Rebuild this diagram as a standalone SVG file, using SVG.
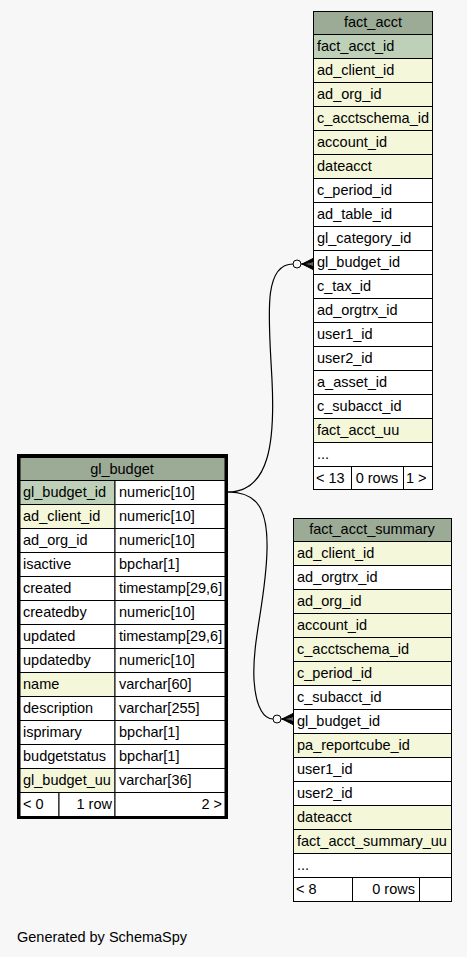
<svg xmlns="http://www.w3.org/2000/svg" width="467" height="957" viewBox="0 0 467 957">
<style>
text{font-family:"Liberation Sans",Arial,sans-serif;font-size:14.5px;fill:#000}
.c{stroke:#000;stroke-width:1}
.h{fill:#9bab96}
.pk{fill:#bed1b8}
.ix{fill:#f4f7da}
.w{fill:#ffffff}
.mid{text-anchor:middle}
.end{text-anchor:end}
.edge{fill:none;stroke:#000;stroke-width:1.2}
.crow{fill:#000;stroke:#000;stroke-width:1}
.odot{fill:#f7f7f7;stroke:#000;stroke-width:1}
</style>
<rect width="467" height="957" fill="#f7f7f7"/>

<g id="connectors">
<path class="edge" d="M228,492 C270,492 275,440 272,380 C269,320 262,264 293,264"/>
<circle class="odot" cx="297" cy="264" r="4"/>
<path class="edge" d="M301,264 L313,264"/>
<path class="crow" d="M313,258.5 L302,264 L313,262 Z M313,269.5 L302,264 L313,266 Z"/>
<path class="edge" d="M228,492 C258,492 268,510 267,550 C266,600 252,640 254,680 C256,710 265,719 273,719"/>
<circle class="odot" cx="277" cy="719" r="4"/>
<path class="edge" d="M281,719 L293,719"/>
<path class="crow" d="M293,713.5 L282,719 L293,717 Z M293,724.5 L282,719 L293,721 Z"/>
</g>

<g id="fact_acct">
<rect class="c h" x="313.5" y="11.5" width="119" height="23"/>
<text class="mid" x="373" y="27">fact_acct</text>
<rect class="c pk" x="313.5" y="34.5" width="119" height="24"/><text x="317" y="51">fact_acct_id</text>
<rect class="c ix" x="313.5" y="58.5" width="119" height="24"/><text x="317" y="75">ad_client_id</text>
<rect class="c ix" x="313.5" y="82.5" width="119" height="24"/><text x="317" y="99">ad_org_id</text>
<rect class="c ix" x="313.5" y="106.5" width="119" height="24"/><text x="317" y="123">c_acctschema_id</text>
<rect class="c ix" x="313.5" y="130.5" width="119" height="24"/><text x="317" y="147">account_id</text>
<rect class="c ix" x="313.5" y="154.5" width="119" height="24"/><text x="317" y="171">dateacct</text>
<rect class="c w" x="313.5" y="178.5" width="119" height="24"/><text x="317" y="195">c_period_id</text>
<rect class="c w" x="313.5" y="202.5" width="119" height="24"/><text x="317" y="219">ad_table_id</text>
<rect class="c w" x="313.5" y="226.5" width="119" height="24"/><text x="317" y="243">gl_category_id</text>
<rect class="c w" x="313.5" y="250.5" width="119" height="24"/><text x="317" y="267">gl_budget_id</text>
<rect class="c w" x="313.5" y="274.5" width="119" height="24"/><text x="317" y="291">c_tax_id</text>
<rect class="c w" x="313.5" y="298.5" width="119" height="24"/><text x="317" y="315">ad_orgtrx_id</text>
<rect class="c w" x="313.5" y="322.5" width="119" height="24"/><text x="317" y="339">user1_id</text>
<rect class="c w" x="313.5" y="346.5" width="119" height="24"/><text x="317" y="363">user2_id</text>
<rect class="c w" x="313.5" y="370.5" width="119" height="24"/><text x="317" y="387">a_asset_id</text>
<rect class="c w" x="313.5" y="394.5" width="119" height="24"/><text x="317" y="411">c_subacct_id</text>
<rect class="c ix" x="313.5" y="418.5" width="119" height="24"/><text x="317" y="435">fact_acct_uu</text>
<rect class="c w" x="313.5" y="442.5" width="119" height="24"/><text x="317" y="459">...</text>
<rect class="c w" x="313.5" y="466.5" width="38" height="23"/><text x="316" y="483">&lt; 13</text>
<rect class="c w" x="351.5" y="466.5" width="52" height="23"/><text class="mid" x="377" y="483">0 rows</text>
<rect class="c w" x="403.5" y="466.5" width="29" height="23"/><text x="406" y="483">1 &gt;</text>
</g>

<g id="gl_budget">
<rect class="c h" x="20" y="457.5" width="205" height="23"/>
<text class="mid" x="122" y="474">gl_budget</text>
<rect class="c pk" x="20" y="480.5" width="95" height="24"/><rect class="c w" x="115" y="480.5" width="110" height="24"/>
<text x="23" y="497">gl_budget_id</text><text x="119" y="497">numeric[10]</text>
<rect class="c ix" x="20" y="504.5" width="95" height="24"/><rect class="c w" x="115" y="504.5" width="110" height="24"/>
<text x="23" y="521">ad_client_id</text><text x="119" y="521">numeric[10]</text>
<rect class="c w" x="20" y="528.5" width="95" height="24"/><rect class="c w" x="115" y="528.5" width="110" height="24"/>
<text x="23" y="545">ad_org_id</text><text x="119" y="545">numeric[10]</text>
<rect class="c w" x="20" y="552.5" width="95" height="24"/><rect class="c w" x="115" y="552.5" width="110" height="24"/>
<text x="23" y="569">isactive</text><text x="119" y="569">bpchar[1]</text>
<rect class="c w" x="20" y="576.5" width="95" height="24"/><rect class="c w" x="115" y="576.5" width="110" height="24"/>
<text x="23" y="593">created</text><text x="119" y="593">timestamp[29,6]</text>
<rect class="c w" x="20" y="600.5" width="95" height="24"/><rect class="c w" x="115" y="600.5" width="110" height="24"/>
<text x="23" y="617">createdby</text><text x="119" y="617">numeric[10]</text>
<rect class="c w" x="20" y="624.5" width="95" height="24"/><rect class="c w" x="115" y="624.5" width="110" height="24"/>
<text x="23" y="641">updated</text><text x="119" y="641">timestamp[29,6]</text>
<rect class="c w" x="20" y="648.5" width="95" height="24"/><rect class="c w" x="115" y="648.5" width="110" height="24"/>
<text x="23" y="665">updatedby</text><text x="119" y="665">numeric[10]</text>
<rect class="c ix" x="20" y="672.5" width="95" height="24"/><rect class="c w" x="115" y="672.5" width="110" height="24"/>
<text x="23" y="689">name</text><text x="119" y="689">varchar[60]</text>
<rect class="c w" x="20" y="696.5" width="95" height="24"/><rect class="c w" x="115" y="696.5" width="110" height="24"/>
<text x="23" y="713">description</text><text x="119" y="713">varchar[255]</text>
<rect class="c w" x="20" y="720.5" width="95" height="24"/><rect class="c w" x="115" y="720.5" width="110" height="24"/>
<text x="23" y="737">isprimary</text><text x="119" y="737">bpchar[1]</text>
<rect class="c w" x="20" y="744.5" width="95" height="24"/><rect class="c w" x="115" y="744.5" width="110" height="24"/>
<text x="23" y="761">budgetstatus</text><text x="119" y="761">bpchar[1]</text>
<rect class="c ix" x="20" y="768.5" width="95" height="24"/><rect class="c w" x="115" y="768.5" width="110" height="24"/>
<text x="23" y="785">gl_budget_uu</text><text x="119" y="785">varchar[36]</text>
<rect class="c w" x="20" y="792.5" width="39" height="24"/><rect class="c w" x="59" y="792.5" width="56" height="24"/><rect class="c w" x="115" y="792.5" width="110" height="24"/>
<text x="23" y="809">&lt; 0</text><text class="end" x="112" y="809">1 row</text><text class="end" x="222" y="809">2 &gt;</text>
<rect x="18.5" y="455.5" width="208" height="362" fill="none" stroke="#000" stroke-width="3"/>
</g>

<g id="fact_acct_summary">
<rect class="c h" x="293.5" y="518.5" width="158" height="23"/>
<text class="mid" x="372" y="534">fact_acct_summary</text>
<rect class="c ix" x="293.5" y="541.5" width="158" height="24"/><text x="297" y="558">ad_client_id</text>
<rect class="c w" x="293.5" y="565.5" width="158" height="24"/><text x="297" y="582">ad_orgtrx_id</text>
<rect class="c ix" x="293.5" y="589.5" width="158" height="24"/><text x="297" y="606">ad_org_id</text>
<rect class="c ix" x="293.5" y="613.5" width="158" height="24"/><text x="297" y="630">account_id</text>
<rect class="c ix" x="293.5" y="637.5" width="158" height="24"/><text x="297" y="654">c_acctschema_id</text>
<rect class="c ix" x="293.5" y="661.5" width="158" height="24"/><text x="297" y="678">c_period_id</text>
<rect class="c w" x="293.5" y="685.5" width="158" height="24"/><text x="297" y="702">c_subacct_id</text>
<rect class="c w" x="293.5" y="709.5" width="158" height="24"/><text x="297" y="726">gl_budget_id</text>
<rect class="c ix" x="293.5" y="733.5" width="158" height="24"/><text x="297" y="750">pa_reportcube_id</text>
<rect class="c w" x="293.5" y="757.5" width="158" height="24"/><text x="297" y="774">user1_id</text>
<rect class="c w" x="293.5" y="781.5" width="158" height="24"/><text x="297" y="798">user2_id</text>
<rect class="c ix" x="293.5" y="805.5" width="158" height="24"/><text x="297" y="822">dateacct</text>
<rect class="c ix" x="293.5" y="829.5" width="158" height="24"/><text x="297" y="846">fact_acct_summary_uu</text>
<rect class="c w" x="293.5" y="853.5" width="158" height="24"/><text x="297" y="870">...</text>
<rect class="c w" x="293.5" y="877.5" width="59" height="24"/><text x="296" y="894">&lt; 8</text>
<rect class="c w" x="352.5" y="877.5" width="67" height="24"/><text class="end" x="415" y="894">0 rows</text>
<rect class="c w" x="419.5" y="877.5" width="32" height="24"/>
</g>

<text x="17" y="942">Generated by SchemaSpy</text>
</svg>
